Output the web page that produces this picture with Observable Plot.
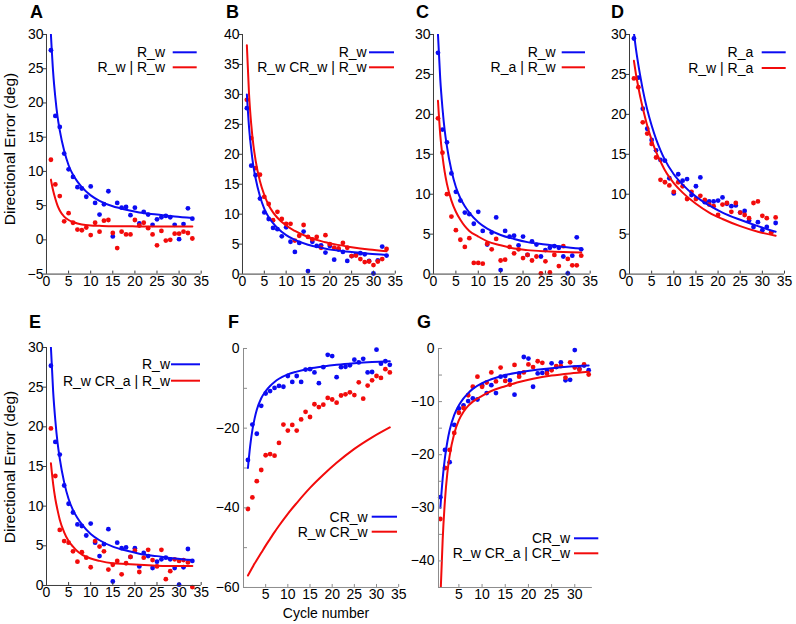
<!DOCTYPE html>
<html><head><meta charset="utf-8">
<script src="https://cdn.jsdelivr.net/npm/d3@7"></script>
<script src="https://cdn.jsdelivr.net/npm/@observablehq/plot@0.6"></script>
<style>
body{margin:0;background:#fff;}
#fig{position:relative;width:796px;height:624px;overflow:hidden;background:#fff;font-family:Arial,"Liberation Sans",sans-serif;}
#fig svg{position:absolute;}
</style></head><body><div id="fig"></div><script>
// ---------- data ----------
const cycles = d3.range(1, 34);
// observed directional errors per cycle
const R_w = [27.7,18.1,16.5,12.6,10.3,9.2,7.7,7.5,6.3,7.8,5.4,3.7,5.2,7.1,0.5,5.4,4.7,4.8,3.6,4.7,2.4,4.1,3.7,2.2,3.0,3.3,3.5,3.3,2.2,0.1,2.3,4.6,3.1];
const Rw_given_Rw = [11.7,8.1,6.4,2.7,3.9,2.5,1.5,1.4,1.8,0.7,2.5,1.2,2.8,2.9,1.0,-1.2,1.2,0.8,0.8,2.9,2.1,2.5,1.7,0.8,-0.8,1.3,-0.1,0.0,0.9,0.9,1.2,1.0,0.2];
const RwCRw_given_Rw = [29.1,22.7,17.7,16.6,12.9,11.7,9.0,10.4,9.2,8.4,8.4,5.6,6.4,8.2,6.2,5.8,6.2,4.4,6.5,5.0,4.4,4.3,5.2,4.4,3.0,3.1,2.5,2.0,2.1,1.5,2.1,2.5,4.2];
const Ra_given_Rw = [19.5,15.2,10.0,7.2,5.5,4.3,3.4,4.5,1.4,1.4,1.3,3.8,3.1,4.4,1.7,1.8,3.4,2.6,3.1,2.0,2.4,1.7,2.2,0.1,1.6,0.2,2.4,1.0,3.5,1.9,1.1,1.1,2.3];
const R_a = [29.5,24.6,20.7,18.2,16.8,15.5,14.3,14.2,12.0,10.1,12.5,11.7,11.9,9.9,11.0,12.1,9.0,9.1,9.1,9.2,9.6,8.8,8.5,8.6,7.7,7.9,6.7,5.9,6.5,5.5,5.9,5.2,6.4];
const Rw_given_Ra = [24.5,23.4,19.0,17.6,16.3,14.6,11.8,11.5,11.1,10.3,11.5,11.0,9.4,10.3,9.4,9.8,9.3,8.7,8.5,7.4,8.7,8.9,7.8,8.9,7.7,7.4,7.0,8.9,9.1,7.3,7.0,5.2,7.1];
const RwCRa_given_Rw = [19.8,13.8,7.0,5.6,5.4,4.3,3.0,4.2,3.5,2.3,5.6,4.9,4.3,2.0,2.6,3.1,1.4,2.8,3.6,4.4,1.7,3.5,4.5,3.2,2.4,4.5,0.8,1.8,3.3,3.1,3.2,2.9,-0.2];
const CR_w = [-28.0,-19.1,-21.4,-14.4,-11.3,-10.7,-9.9,-9.4,-9.6,-6.9,-8.4,-6.9,-8.4,-5.3,-5.2,-6.0,-8.7,-4.7,-1.6,-1.9,-7.2,-4.7,-4.6,-4.2,-2.8,-3.5,-2.6,-6.0,-5.9,-0.3,-3.8,-3.2,-4.1];
const RwCRw = [-40.3,-37.4,-33.3,-30.5,-26.8,-26.5,-26.9,-23.7,-19.1,-20.6,-19.2,-20.6,-17.8,-15.9,-17.2,-14.0,-14.7,-14.1,-12.4,-12.8,-13.6,-11.8,-11.5,-11.0,-11.7,-8.5,-12.6,-9.3,-8.0,-6.9,-7.4,-5.2,-6.0];
const RwCRa_given_CRw = [-32.1,-22.5,-19.1,-15.9,-12.1,-11.2,-8.8,-7.2,-5.3,-7.2,-6.4,-4.5,-6.2,-3.6,-6.1,-6.8,-3.1,-5.3,-4.5,-3.0,-3.5,-2.4,-2.7,-4.7,-4.1,-3.3,-3.3,-5.5,-2.6,-3.6,-4.0,-3.0,-4.9];

// fitted curves, read at these cycle positions
const fitX = [1,1.5,2,2.5,3,4,5,6,7,8,10,12,15,18,21,25,29,33];
const fit_R_w = [30,24.5,20.8,18.0,16.0,13.0,10.9,9.5,8.5,7.7,6.5,5.7,4.9,4.4,4.0,3.7,3.4,3.2];
const fit_Rw_given_Rw = [8.8,7.2,6.0,5.0,4.3,3.4,2.9,2.6,2.4,2.25,2.1,2.05,2.0,2.0,1.95,1.95,1.95,1.95];
const fit_RwCRw_given_Rw = [38.2,30.0,25.0,21.5,19.0,15.5,13.2,11.5,10.3,9.4,8.1,7.2,6.2,5.5,5.0,4.5,4.1,3.8];
const fit_Ra_given_Rw = [21.7,17.5,14.8,12.8,11.3,9.2,7.8,6.8,6.0,5.4,4.7,4.1,3.6,3.2,3.0,2.85,2.75,2.7];
const fit_R_a = [30.2,28.0,26.2,24.6,23.1,20.6,18.6,16.9,15.5,14.3,12.5,11.2,9.7,8.6,7.7,6.8,6.0,5.3];
const fit_Rw_given_Ra = [26.7,24.9,23.4,22.0,20.8,18.6,16.8,15.3,14.1,13.0,11.4,10.2,8.8,7.7,6.9,6.0,5.3,4.8];
const fit_RwCRa_given_Rw = [15.4,12.8,10.9,9.5,8.3,6.7,5.6,4.9,4.3,3.9,3.4,3.1,2.8,2.7,2.6,2.5,2.45,2.45];
const fit_CR_w = [-30,-24.5,-20.5,-17.6,-15.4,-12.5,-10.7,-9.4,-8.4,-7.6,-6.5,-5.8,-5.0,-4.5,-4.1,-3.7,-3.4,-3.2];
const fit_RwCRw = [-57,-56.0,-55.0,-54.0,-53.1,-51.3,-49.5,-47.8,-46.1,-44.5,-41.5,-38.8,-35.0,-31.7,-28.7,-25.2,-22.3,-19.8];
const fitXG = [1.1,1.5,2,2.5,3,4,5,6,7,8,10,12,15,18,21,25,29,33];
const fit_RwCRa_given_CRw = [-45,-36,-28.5,-23.5,-20.2,-16.0,-13.5,-11.9,-10.8,-10.0,-8.9,-8.0,-7.1,-6.3,-5.7,-5.1,-4.7,-4.4];

// tick values
const ticks0to35 = [0,5,10,15,20,25,30,35];
const ticks5to35 = [5,10,15,20,25,30,35];
const ticks5to30 = [5,10,15,20,25,30];
const ticksA = [-5,0,5,10,15,20,25,30];
const ticksB = [0,5,10,15,20,25,30,35,40];
const ticks0to30 = [0,5,10,15,20,25,30];
const ticksF = [0,-10,-20,-30,-40,-50,-60];
const labelsF = [0,-20,-40,-60];
const ticksG = [0,-5,-10,-15,-20,-25,-30,-35,-40,-45];
const labelsG = [0,-10,-20,-30,-40];

// ---------- drawing ----------
const BLUE = "#0b0bf2", RED = "#f20b0b";
const pts = vals => vals.map((v, i) => ({c: cycles[i], v}));
const fit = (xs, vals) => xs.map((c, i) => ({c, v: vals[i]}));

const panels = [
  {px:[46.3,201], py:[33.7,273.3], xd:[0,35], yd:[-5,30], yt:ticksA, yl:ticksA, xt:ticks0to35, xl:ticks0to35, inward:false,
   series:[[R_w, fit(fitX, fit_R_w), BLUE],[Rw_given_Rw, fit(fitX, fit_Rw_given_Rw), RED]]},
  {px:[241.7,394.5], py:[33.7,273.3], xd:[0,35], yd:[0,40], yt:ticksB, yl:ticksB, xt:ticks0to35, xl:ticks0to35, inward:false,
   series:[[R_w, fit(fitX, fit_R_w), BLUE],[RwCRw_given_Rw, fit(fitX, fit_RwCRw_given_Rw), RED]]},
  {px:[433.3,590], py:[33.7,273.3], xd:[0,35], yd:[0,30], yt:ticks0to30, yl:ticks0to30, xt:ticks0to35, xl:ticks0to35, inward:false,
   series:[[R_w, fit(fitX, fit_R_w), BLUE],[Ra_given_Rw, fit(fitX, fit_Ra_given_Rw), RED]]},
  {px:[629.3,784.3], py:[33.7,273.3], xd:[0,35], yd:[0,30], yt:ticks0to30, yl:ticks0to30, xt:ticks0to35, xl:ticks0to35, inward:false,
   series:[[R_a, fit(fitX, fit_R_a), BLUE],[Rw_given_Ra, fit(fitX, fit_Rw_given_Ra), RED]]},
  {px:[46.3,201], py:[347.3,585.3], xd:[0,35], yd:[0,30], yt:ticks0to30, yl:ticks0to30, xt:ticks0to35, xl:ticks0to35, inward:false,
   series:[[R_w, fit(fitX, fit_R_w), BLUE],[RwCRa_given_Rw, fit(fitX, fit_RwCRa_given_Rw), RED]]},
  {px:[242.7,397.9], py:[348.3,587.3], xd:[0,35], yd:[-60,0], yt:ticksF, yl:labelsF, xt:ticks5to35, xl:ticks5to35, inward:true,
   series:[[CR_w, fit(fitX, fit_CR_w), BLUE],[RwCRw, fit(fitX, fit_RwCRw), RED]]},
  {px:[437.8,591.7], py:[348.3,587.3], xd:[0.6,33.8], yd:[-45,0], yt:ticksG, yl:labelsG, xt:ticks5to30, xl:ticks5to30, inward:true,
   series:[[CR_w, fit(fitX, fit_CR_w), BLUE],[RwCRa_given_CRw, fit(fitXG, fit_RwCRa_given_CRw), RED]]}
];

const fig = document.getElementById("fig");
const ml = 44, mr = 10, mt = 10, mb = 24;

for (const p of panels) {
  const W = p.px[1] - p.px[0] + ml + mr;
  const H = p.py[1] - p.py[0] + mt + mb;
  const axisColor = p.inward ? "#8c8c8c" : "#3a3a3a";
  const marks = [];
  for (const [d, , col] of p.series) marks.push(Plot.dot(pts(d), {x: "c", y: "v", r: 2.4, fill: col}));
  for (const [, f, col] of p.series) marks.push(Plot.line(f, {x: "c", y: "v", stroke: col, strokeWidth: 2, curve: "monotone-x", clip: true}));
  marks.push(Plot.ruleX([p.xd[0]], {stroke: axisColor, strokeWidth: 1}));
  marks.push(Plot.ruleY([p.yd[0]], {stroke: axisColor, strokeWidth: 1}));
  if (p.inward) {
    marks.push(Plot.axisY(p.yt, {tickSize: 4, dx: 4, stroke: axisColor, tickFormat: () => "", label: null}));
    marks.push(Plot.axisY(p.yl, {tickSize: 0, tickPadding: 4, fill: "#000", label: null}));
  } else {
    marks.push(Plot.axisY(p.yt, {tickSize: 3, tickPadding: 0, stroke: axisColor, fill: "#000", label: null}));
  }
  marks.push(Plot.axisX(p.xt, {tickSize: 3, dy: -3, stroke: axisColor, tickFormat: () => "", label: null}));
  marks.push(Plot.axisX(p.xl, {tickSize: 0, tickPadding: 2, fill: "#000", label: null}));
  const svg = Plot.plot({
    width: W, height: H,
    marginLeft: ml, marginRight: mr, marginTop: mt, marginBottom: mb,
    x: {domain: p.xd, label: null},
    y: {domain: p.yd, label: null},
    style: {background: "transparent", fontSize: "14px", fontFamily: "Arial, 'Liberation Sans', sans-serif", color: "#000", maxWidth: "none", overflow: "visible"},
    marks
  });
  svg.style.left = (p.px[0] - ml) + "px";
  svg.style.top = (p.py[0] - mt) + "px";
  fig.appendChild(svg);
}

// ---------- annotations: panel letters, legends, axis titles ----------
const legends = [
  {tx:165, lx:[172.7,196.7], ys:[52.3,67.3], items:[["R_w",BLUE],["R_w | R_w",RED]]},
  {tx:366.7, lx:[369,394], ys:[52.3,67.3], items:[["R_w",BLUE],["R_w CR_w | R_w",RED]]},
  {tx:555.7, lx:[561.7,585], ys:[52.3,67.3], items:[["R_w",BLUE],["R_a | R_w",RED]]},
  {tx:753.3, lx:[761.7,785.7], ys:[52.3,68], items:[["R_a",BLUE],["R_w | R_a",RED]]},
  {tx:170, lx:[171,200], ys:[364.3,380.7], items:[["R_w",BLUE],["R_w CR_a | R_w",RED]]},
  {tx:367.7, lx:[371.7,397], ys:[516.7,531.7], items:[["CR_w",BLUE],["R_w CR_w",RED]]},
  {tx:570, lx:[574,598.3], ys:[538.3,553.3], items:[["CR_w",BLUE],["R_w CR_a | CR_w",RED]]}
];
const letters = [["A",30,18],["B",226,18],["C",416,18],["D",611,18],["E",29,328],["F",228,328],["G",417,328]];

const ov = d3.select(fig).append("svg")
  .attr("width", 796).attr("height", 624)
  .style("left", "0px").style("top", "0px")
  .attr("font-family", "Arial, 'Liberation Sans', sans-serif");

for (const [t, x, y] of letters) {
  ov.append("text").attr("x", x).attr("y", y).attr("font-size", 18).attr("font-weight", "bold").text(t);
}
for (const L of legends) {
  L.items.forEach(([label, col], i) => {
    const y = L.ys[i];
    ov.append("text").attr("x", L.tx).attr("y", y + 5).attr("text-anchor", "end").attr("font-size", 14).text(label);
    ov.append("line").attr("x1", L.lx[0]).attr("x2", L.lx[1]).attr("y1", y).attr("y2", y).attr("stroke", col).attr("stroke-width", 2);
  });
}
for (const cy of [149, 467]) {
  ov.append("text").attr("transform", `translate(14.5,${cy}) rotate(-90)`).attr("text-anchor", "middle").attr("font-size", 15.5).text("Directional Error (deg)");
}
ov.append("text").attr("x", 326).attr("y", 618).attr("text-anchor", "middle").attr("font-size", 14).text("Cycle number");
</script></body></html>
